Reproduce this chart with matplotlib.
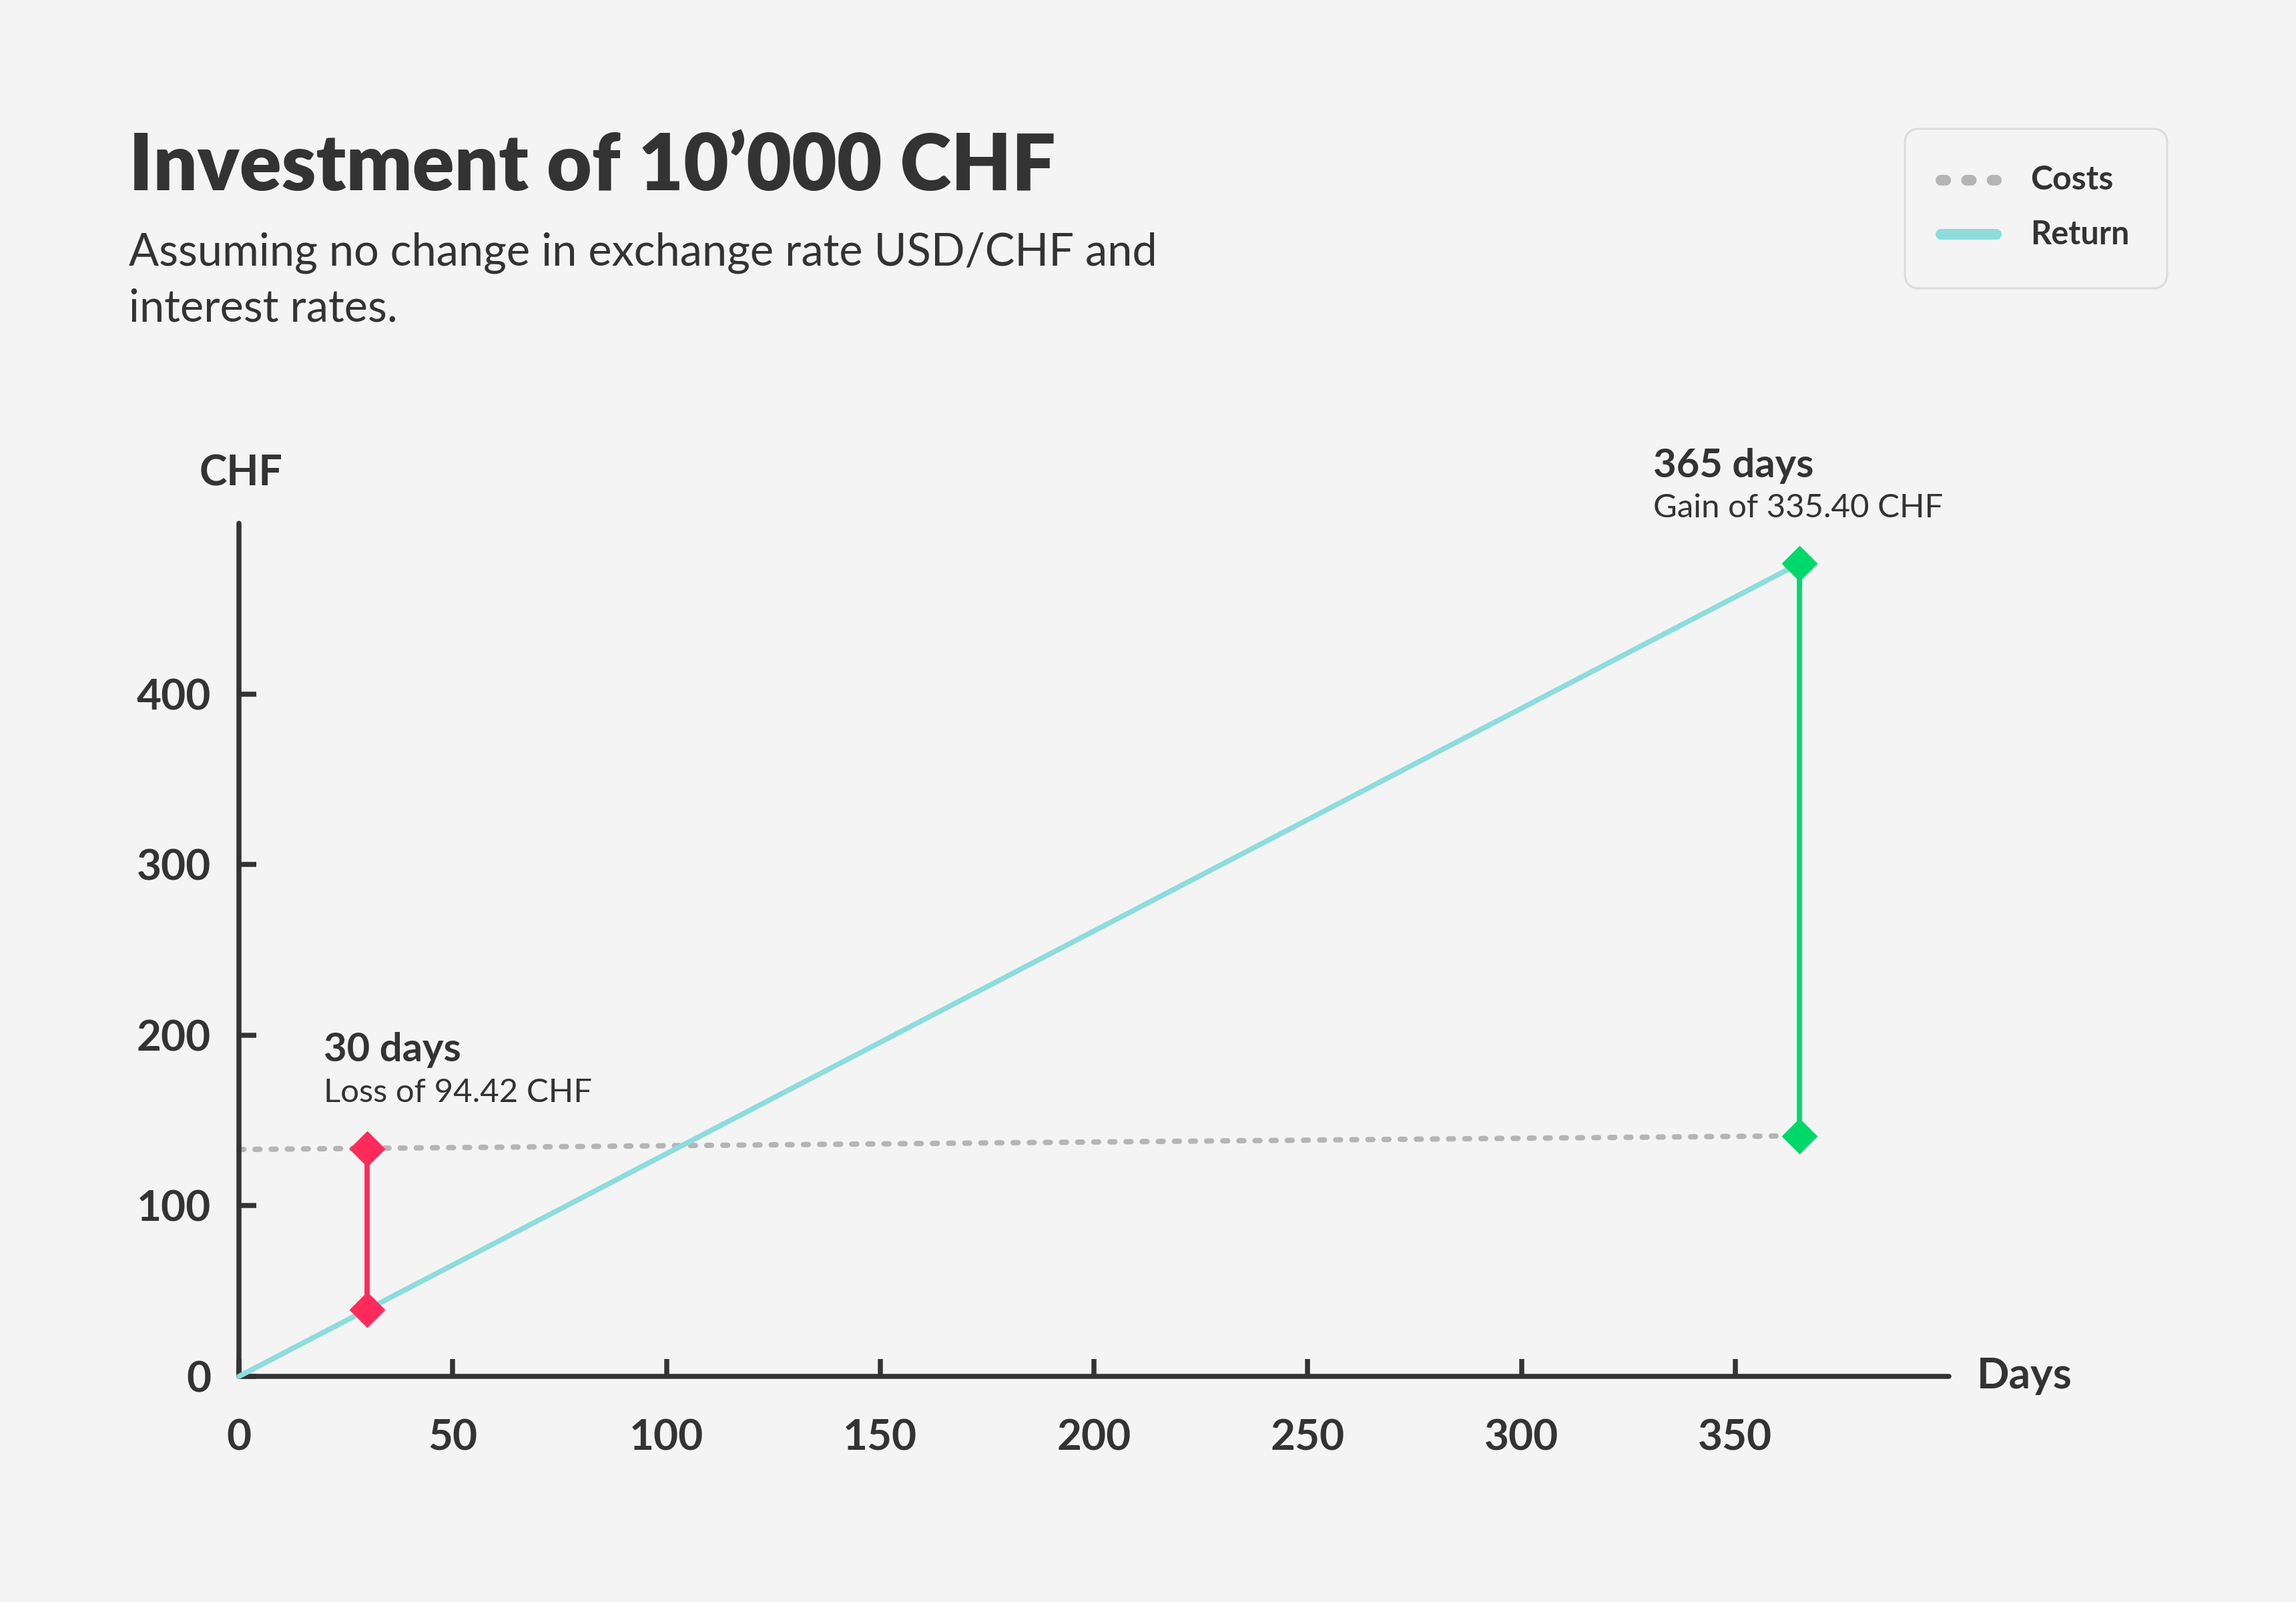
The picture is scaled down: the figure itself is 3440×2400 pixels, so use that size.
import matplotlib
matplotlib.use("Agg")
import matplotlib.pyplot as plt
from matplotlib.patches import FancyBboxPatch
from matplotlib.lines import Line2D

# ---- data ----
days = [0, 30, 365]
costs = [133.0, 133.6, 141.0]
returns = [0.0, 39.2, 476.4]
x_ticks = [0, 50, 100, 150, 200, 250, 300, 350]
y_ticks = [0, 100, 200, 300, 400]
title = "Investment of 10\u2019000 CHF"
subtitle_lines = ["Assuming no change in exchange rate USD/CHF and", "interest rates."]
legend_labels = ["Costs", "Return"]
ann_short = ("30 days", "Loss of 94.42 CHF")
ann_long = ("365 days", "Gain of 335.40 CHF")

BG = "#F4F4F4"
TXT = "#333333"
C_RET = "#8DDCDE"
C_COST = "#B5B5B5"
C_LOSS = "#FF2A5A"
C_GAIN = "#00D96A"
FONT = ["Lato", "DejaVu Sans"]

plt.rcParams['font.family'] = FONT

fig = plt.figure(figsize=(17.2, 12), dpi=200, facecolor=BG)
W, H = 3440, 2400
ax = fig.add_axes([358 / W, 1 - 2062 / H, (2920 - 358) / W, (2062 - 784) / H])
ax.set_facecolor(BG)
ax.set_xlim(0, 400)
ax.set_ylim(0, 500)

for s in ["top", "right"]:
    ax.spines[s].set_visible(False)
for s in ["left", "bottom"]:
    ax.spines[s].set_color(TXT)
    ax.spines[s].set_linewidth(2.7)
    ax.spines[s].set_capstyle("round")

ax.set_xticks(x_ticks)
ax.set_yticks(y_ticks)
ax.tick_params(axis="both", direction="in", length=9.5, width=2.7, color=TXT,
               labelcolor=TXT, labelsize=23)
ax.tick_params(axis="x", pad=23)
ax.tick_params(axis="y", pad=15)
for lab in ax.get_xticklabels() + ax.get_yticklabels():
    lab.set_fontweight("bold")

# lines
ax.plot([days[0], days[-1]], [costs[0], costs[-1]], color=C_COST, lw=2.9,
        dashes=(0.9, 2.1), dash_capstyle="round", zorder=2, clip_on=False)
ax.plot([days[0], days[-1]], [returns[0], returns[-1]], color=C_RET, lw=2.8,
        solid_capstyle="round", zorder=3, clip_on=False)

# loss / gain
ax.plot([days[1], days[1]], [returns[1], costs[1]], color=C_LOSS, lw=2.8,
        marker="D", markersize=12.5, zorder=5, clip_on=False)
ax.plot([days[2], days[2]], [costs[2], returns[2]], color=C_GAIN, lw=2.8,
        marker="D", markersize=12.5, zorder=5, clip_on=False)

# annotations
ax.text(19.8, 191.3, ann_short[0], fontsize=21.5, fontweight="bold", color=TXT,
        ha="left", va="center", clip_on=False)
ax.text(19.8, 166.3, ann_short[1], fontsize=17.7, color=TXT,
        ha="left", va="center", clip_on=False)
ax.text(330.8, 533.6, ann_long[0], fontsize=21.5, fontweight="bold", color=TXT,
        ha="left", va="center", clip_on=False)
ax.text(330.8, 509.0, ann_long[1], fontsize=17.7, color=TXT,
        ha="left", va="center", clip_on=False)

# axis labels
fig.text(361 / W, 1 - 709 / H, "CHF", fontsize=22.5, fontweight="bold", color=TXT,
         ha="center", va="center")
fig.text(2962 / W, 1 - 2062 / H, "Days", fontsize=23, fontweight="bold", color=TXT,
         ha="left", va="center")

# title / subtitle
fig.text(193 / W, 1 - 285 / H, title, fontsize=42, fontweight="heavy", color=TXT,
         ha="left", va="baseline")
fig.text(193 / W, 1 - 397 / H, subtitle_lines[0], fontsize=24, color=TXT,
         ha="left", va="baseline")
fig.text(193 / W, 1 - 482 / H, subtitle_lines[1], fontsize=24, color=TXT,
         ha="left", va="baseline")

# legend (custom, in inches)
box = FancyBboxPatch((14.27, 9.84), 1.965, 1.195,
                     boxstyle="round,pad=0,rounding_size=0.11",
                     transform=fig.dpi_scale_trans, facecolor=BG,
                     edgecolor="#DCDCDC", lw=1.1)
fig.add_artist(box)
l1 = Line2D([14.54, 14.955], [10.65, 10.65], transform=fig.dpi_scale_trans,
            color=C_COST, lw=5.8, dashes=(0.44, 1.94), dash_capstyle="round")
l2 = Line2D([14.54, 14.955], [10.245, 10.245], transform=fig.dpi_scale_trans,
            color=C_RET, lw=5.8, solid_capstyle="round")
fig.add_artist(l1)
fig.add_artist(l2)
fig.text(15.21, 10.65, legend_labels[0], transform=fig.dpi_scale_trans,
         fontsize=18, fontweight="bold", color=TXT, ha="left", va="center")
fig.text(15.21, 10.245, legend_labels[1], transform=fig.dpi_scale_trans,
         fontsize=17.5, fontweight="bold", color=TXT, ha="left", va="center")

fig.savefig("out.png", dpi=200, facecolor=BG)
